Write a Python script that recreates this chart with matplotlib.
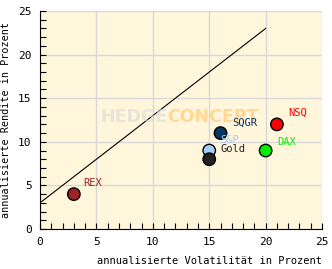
import matplotlib
matplotlib.use("Agg")
import matplotlib.pyplot as plt
from matplotlib.ticker import MultipleLocator

# data
names = ["REX", "SQGR", "S&P", "Gold", "DAX", "NSQ"]
vol = [3, 16, 15, 15, 20, 21]
ret = [4, 11, 9, 8, 9, 12]
colors = ["#9c2424", "#0a3560", "#a9cdf5", "#222222", "#00f000", "#ff0000"]
label_x = [3.8, 17.0, 16.0, 16.0, 21.0, 22.0]
label_y = [5.3, 12.2, 10.2, 9.2, 10.0, 13.3]

line_x = [0, 20]
line_y = [3, 23]

fig = plt.figure(figsize=(3.32, 2.69), dpi=100)
ax = fig.add_axes([0.1205, 0.1487, 0.8495, 0.8103])
ax.set_facecolor("#fff6dc")

ax.set_xlim(0, 25)
ax.set_ylim(0, 25)
ax.xaxis.set_major_locator(MultipleLocator(5))
ax.yaxis.set_major_locator(MultipleLocator(5))
ax.xaxis.set_minor_locator(MultipleLocator(1))
ax.yaxis.set_minor_locator(MultipleLocator(1))
ax.grid(True, which="major", color="#d8d8d8", linewidth=1.0)
ax.set_axisbelow(True)
ax.tick_params(which="both", direction="in", length=4, width=0.8, labelsize=8,
               top=False, right=False)
ax.tick_params(which="major", pad=6)
for side in ["top", "right"]:
    ax.spines[side].set_visible(False)
for lbl in ax.get_xticklabels() + ax.get_yticklabels():
    lbl.set_family("DejaVu Sans Mono")

# watermark
ax.text(11.3, 12.8, "HEDGE", fontsize=12.5, fontweight="bold", color="#d9d9d9",
        alpha=0.6, ha="right", va="center", family="DejaVu Sans")
ax.text(11.3, 12.8, "CONCEPT", fontsize=12.5, fontweight="bold", color="#ffc870",
        alpha=0.65, ha="left", va="center", family="DejaVu Sans")

ax.plot(line_x, line_y, color="black", linewidth=0.8)
ax.scatter(vol, ret, s=80, c=colors, edgecolors="black", linewidths=1.0, zorder=3)
for n, lx, ly, c in zip(names, label_x, label_y, colors):
    ax.text(lx, ly, n, fontsize=7.5, color=c, family="DejaVu Sans Mono",
            ha="left", va="center", zorder=4)

ax.set_xlabel("annualisierte Volatilität in Prozent", fontsize=7.5,
              family="DejaVu Sans Mono", loc="right", labelpad=6)
ax.set_ylabel("annualisierte Rendite in Prozent", fontsize=7.3,
              family="DejaVu Sans Mono", labelpad=5)

fig.savefig("out.png", dpi=100)
